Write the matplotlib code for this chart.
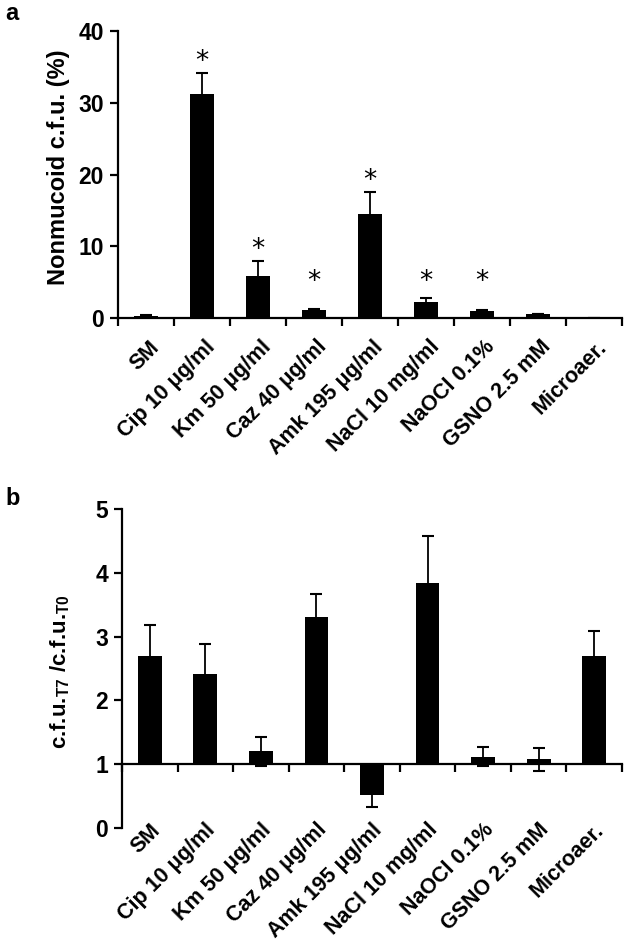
import matplotlib
matplotlib.use('Agg')
import matplotlib.pyplot as plt
from matplotlib.transforms import offset_copy
import numpy as np

plt.rcParams['font.family'] = ['Liberation Sans', 'DejaVu Sans']
plt.rcParams['mathtext.fontset'] = 'custom'
plt.rcParams['mathtext.bf'] = 'Liberation Sans:bold'
plt.rcParams['mathtext.rm'] = 'Liberation Sans'

categories = ['SM', 'Cip 10 \u03bcg/ml', 'Km 50 \u03bcg/ml', 'Caz 40 \u03bcg/ml',
              'Amk 195 \u03bcg/ml', 'NaCl 10 mg/ml', 'NaOCl 0.1%',
              'GSNO 2.5 mM', 'Microaer.']

# panel a: nonmucoid c.f.u. (%)
nonmucoid = [0.3, 31.2, 5.9, 1.1, 14.5, 2.2, 1.0, 0.55, 0.0]
nonmucoid_err = [0.05, 2.9, 2.0, 0.1, 3.0, 0.6, 0.12, 0.05, 0.0]
significant = [False, True, True, True, True, True, True, False, False]

# panel b: c.f.u. T7 / c.f.u. T0
ratio = [2.69, 2.41, 1.20, 3.31, 0.52, 3.84, 1.12, 1.08, 2.70]
ratio_err = [0.49, 0.47, 0.23, 0.35, 0.19, 0.74, 0.15, 0.18, 0.38]
baseline = 1.0

fig = plt.figure(figsize=(6.31, 9.49), dpi=100)
x = np.arange(len(categories))
bar_w = 0.43
lw = 1.6


def style_axes(ax, yticks):
    ax.spines['top'].set_visible(False)
    ax.spines['right'].set_visible(False)
    for s in ['left', 'bottom']:
        ax.spines[s].set_linewidth(lw)
    ax.set_xlim(-0.5, len(categories) - 0.5)
    ax.set_xticks(np.arange(-0.5, len(categories), 1.0))
    ax.set_xticklabels([])
    ax.tick_params(axis='x', direction='out', length=6, width=lw)
    ax.set_yticks(yticks)
    ax.set_yticklabels([str(t) for t in yticks], fontsize=16.5, fontweight='bold')
    ax.tick_params(axis='y', direction='out', length=6, width=lw, pad=4)


def put_labels(ax, y0, dx, dy):
    tr = offset_copy(ax.transData, fig=fig, x=dx, y=dy, units='dots')
    for i, lab in enumerate(categories):
        ax.text(i, y0, lab, transform=tr, rotation=45, rotation_mode='anchor',
                ha='right', va='center', fontsize=15.5, fontweight='bold',
                clip_on=False)


# ---- panel a
ax1 = fig.add_axes([118 / 631, 1 - 318 / 949, 504 / 631, 287 / 949])
ax1.errorbar(x, nonmucoid, yerr=nonmucoid_err, fmt='none', ecolor='black',
             elinewidth=1.3, capsize=4.3, capthick=1.5, zorder=1)
ax1.bar(x, nonmucoid, width=bar_w, color='black', zorder=2)
ax1.set_ylim(0, 40)
style_axes(ax1, [0, 10, 20, 30, 40])
ax1.set_ylabel('Nonmucoid c.f.u. (%)', fontsize=17, fontweight='bold')
ax1.yaxis.set_label_coords(-0.095, 0.526)
for i in range(len(categories)):
    if significant[i]:
        top = nonmucoid[i] + nonmucoid_err[i]
        ax1.text(i, max(top + 1.6, 5.0), '*', ha='center', va='center',
                 fontsize=19, family='DejaVu Sans')
put_labels(ax1, 0, 10, -26)

# ---- panel b
ax2 = fig.add_axes([122 / 631, 1 - 828 / 949, 500 / 631, 319 / 949])
heights = [r - baseline for r in ratio]
ax2.errorbar(x, ratio, yerr=ratio_err, fmt='none', ecolor='black',
             elinewidth=1.3, capsize=4.3, capthick=1.5, zorder=1)
ax2.bar(x, heights, bottom=baseline, width=bar_w, color='black', zorder=2)
ax2.set_ylim(0, 5)
style_axes(ax2, [0, 1, 2, 3, 4, 5])
ax2.spines['bottom'].set_position(('data', baseline))
ax2.spines['bottom'].set_zorder(3)
ax2.set_ylabel(r'c.f.u.$_{\mathbf{T7}}$ /c.f.u.$_{\mathbf{T0}}$',
               fontsize=16, fontweight='bold')
ax2.yaxis.set_label_coords(-0.1, 0.49)
put_labels(ax2, 0, 7, 1)

fig.text(5 / 631, 1 - 20 / 949, 'a', fontsize=17, fontweight='bold', va='baseline')
fig.text(5 / 631, 1 - 505 / 949, 'b', fontsize=17, fontweight='bold', va='baseline')

fig.savefig('out.png', dpi=100)
